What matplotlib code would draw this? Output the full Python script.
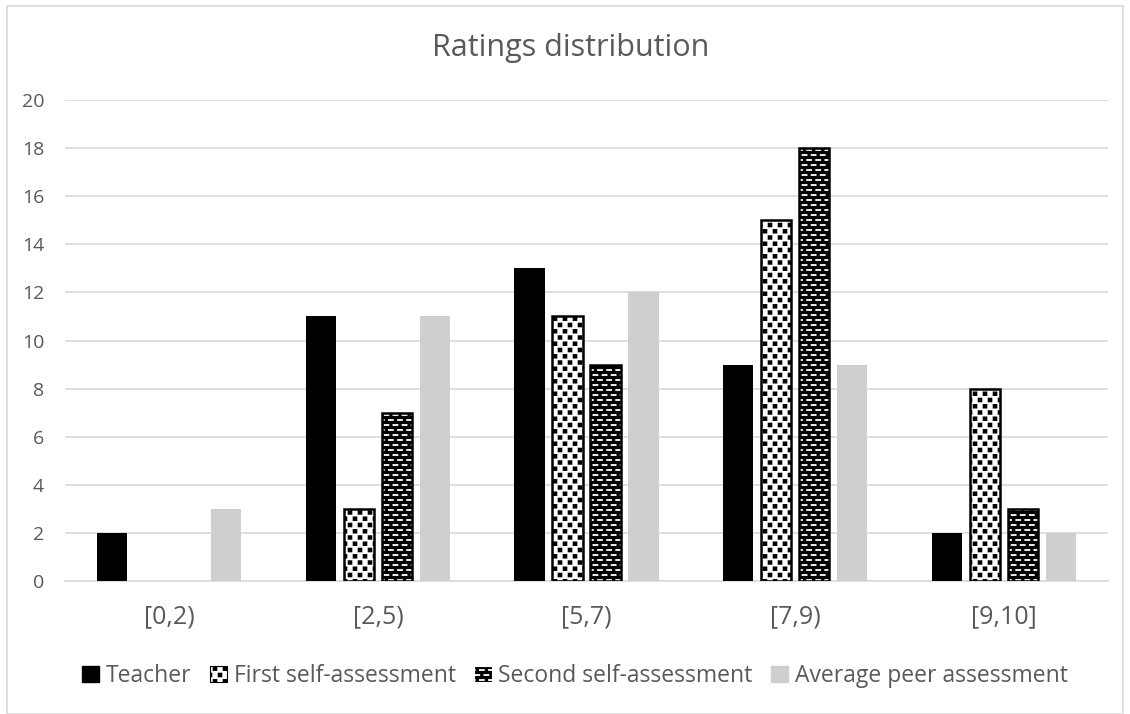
import matplotlib
matplotlib.use("Agg")
import matplotlib.pyplot as plt
import matplotlib.hatch as mhatch
from matplotlib.path import Path
import numpy as np
from matplotlib.patches import Rectangle

categories = ["[0,2)", "[2,5)", "[5,7)", "[7,9)", "[9,10]"]
series_names = ["Teacher", "First self-assessment", "Second self-assessment", "Average peer assessment"]
teacher = [2, 11, 13, 9, 2]
first_self = [0, 3, 11, 15, 8]
second_self = [0, 7, 9, 18, 3]
avg_peer = [3, 11, 12, 9, 2]
y_ticks = [0, 2, 4, 6, 8, 10, 12, 14, 16, 18, 20]


# ---- custom hatch patterns: staggered filled rectangles ----
class _RectGrid(mhatch.HatchPatternBase):
    char = None
    nx = 10
    ny = 16
    hw = 0.02
    hh = 0.02

    def __init__(self, hatch, density):
        self.active = hatch.count(self.char) > 0
        self.centers = []
        if self.active:
            for j in range(self.ny + 1):
                y = j / self.ny
                if j % 2 == 0:
                    xs = [i / self.nx for i in range(self.nx + 1)]
                else:
                    xs = [(i + 0.5) / self.nx for i in range(self.nx)]
                for x in xs:
                    self.centers.append((x, y))
        self.num_vertices = 5 * len(self.centers)

    def set_vertices_and_codes(self, vertices, codes):
        k = 0
        for (cx, cy) in self.centers:
            vertices[k:k + 5] = [(cx - self.hw, cy - self.hh), (cx + self.hw, cy - self.hh),
                                 (cx + self.hw, cy + self.hh), (cx - self.hw, cy + self.hh),
                                 (cx - self.hw, cy - self.hh)]
            codes[k:k + 5] = [Path.MOVETO, Path.LINETO, Path.LINETO, Path.LINETO, Path.CLOSEPOLY]
            k += 5


class SquaresHatch(_RectGrid):
    char = '*'
    nx = 10
    ny = 16
    hw = 0.022
    hh = 0.022


class DashesHatch(_RectGrid):
    char = 'o'
    nx = 11
    ny = 20
    hw = 0.028
    hh = 0.009


mhatch._hatch_types = [t for t in mhatch._hatch_types
                       if t not in (mhatch.Stars, mhatch.SmallCircles)] + [SquaresHatch, DashesHatch]

plt.rcParams['font.family'] = ['Open Sans', 'DejaVu Sans']
plt.rcParams['hatch.linewidth'] = 0.1

fig = plt.figure(figsize=(11.3, 7.14), dpi=100)
ax = fig.add_axes([65/1130, 1-581/714, (1108-65)/1130, (581-100)/714])

x = np.arange(len(categories))
w = 0.145
step = 0.182
offs = [-1.5*step, -0.5*step, 0.5*step, 1.5*step]
txt = '#595959'

def lw(vals):
    return [1.8 if v > 0 else 0 for v in vals]

ax.bar(x+offs[0], teacher, w, color='black', zorder=3)
ax.bar(x+offs[1], first_self, w, color='white', edgecolor='black', hatch='*', linewidth=0, zorder=3)
ax.bar(x+offs[1], first_self, w, fill=False, edgecolor='black', linewidth=lw(first_self), zorder=4)
ax.bar(x+offs[2], second_self, w, color='black', edgecolor='white', hatch='o', linewidth=0, zorder=3)
ax.bar(x+offs[2], second_self, w, fill=False, edgecolor='black', linewidth=lw(second_self), zorder=4)
ax.bar(x+offs[3], avg_peer, w, color='#d0cece', zorder=3)

ax.set_xlim(-0.5, len(categories)-0.5)
ax.set_ylim(0, 20)
ax.set_yticks(y_ticks)
ax.set_xticks(x)
ax.set_xticklabels(categories, fontsize=18, color=txt)
ax.tick_params(axis='y', labelsize=14, colors=txt, length=0, pad=15)
ax.tick_params(axis='x', length=0, pad=17)
ax.grid(axis='y', color='#d9d9d9', linewidth=1.2, zorder=0)
for s in ['top', 'right', 'left']:
    ax.spines[s].set_visible(False)
ax.spines['bottom'].set_color('#d9d9d9')
ax.spines['bottom'].set_linewidth(1.2)

fig.text(0.5 + 6/1130, 1-48/714, "Ratings distribution", ha='center', va='center', fontsize=22, color=txt)

h0 = Rectangle((0, 0), 1, 1, color='black')
h1 = Rectangle((0, 0), 1, 1, facecolor='white', edgecolor='black', hatch='*', linewidth=0.8)
h2 = Rectangle((0, 0), 1, 1, facecolor='black', edgecolor='white', hatch='o', linewidth=0.8)
h3 = Rectangle((0, 0), 1, 1, color='#d0cece')
leg = fig.legend([h0, h1, h2, h3], series_names, loc='center', bbox_to_anchor=(0.5 + 10/1130, 1-676/714),
                 ncol=4, frameon=False, fontsize=16.5, handlelength=0.75, handleheight=0.75,
                 handletextpad=0.3, columnspacing=0.8)
for t in leg.get_texts():
    t.set_color(txt)

fig.patches.append(Rectangle((7/1130, 0.0), 1-14/1130, 1-6/714, transform=fig.transFigure,
                             fill=False, edgecolor='#d9d9d9', linewidth=1.2))

fig.savefig("out.png", dpi=100)
